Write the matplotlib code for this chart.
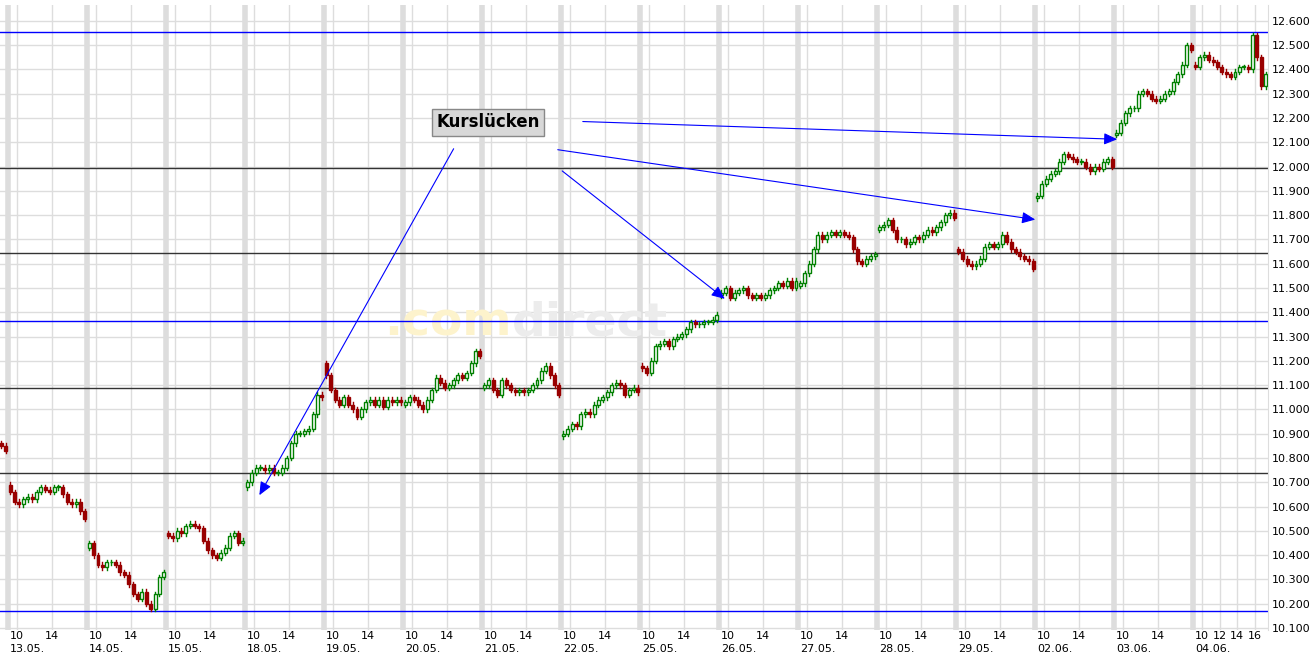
import numpy as np
import matplotlib.pyplot as plt
from matplotlib.patches import Rectangle

# trading days shown, 30-minute closes from 9:00 onwards
days = ["13.05.", "14.05.", "15.05.", "18.05.", "19.05.", "20.05.", "21.05.", "22.05.",
        "25.05.", "26.05.", "27.05.", "28.05.", "29.05.", "02.06.", "03.06.", "04.06."]

closes = [
    [10.66, 10.62, 10.61, 10.63, 10.64, 10.63, 10.66, 10.68, 10.67, 10.66, 10.68, 10.68, 10.65, 10.62, 10.61, 10.62, 10.58, 10.55],
    [10.45, 10.40, 10.36, 10.35, 10.37, 10.37, 10.36, 10.33, 10.32, 10.28, 10.24, 10.22, 10.25, 10.20, 10.18, 10.24, 10.31, 10.33],
    [10.48, 10.47, 10.50, 10.49, 10.52, 10.53, 10.52, 10.51, 10.46, 10.42, 10.40, 10.39, 10.41, 10.43, 10.48, 10.49, 10.45, 10.46],
    [10.70, 10.74, 10.76, 10.76, 10.75, 10.76, 10.74, 10.74, 10.76, 10.80, 10.86, 10.90, 10.90, 10.91, 10.92, 10.98, 11.06, 11.05],
    [11.14, 11.08, 11.04, 11.02, 11.05, 11.02, 11.00, 10.97, 11.00, 11.03, 11.04, 11.02, 11.04, 11.01, 11.04, 11.03, 11.04, 11.03],
    [11.03, 11.05, 11.04, 11.02, 11.00, 11.04, 11.08, 11.13, 11.11, 11.09, 11.10, 11.12, 11.14, 11.13, 11.15, 11.19, 11.24, 11.22],
    [11.10, 11.12, 11.08, 11.06, 11.12, 11.10, 11.08, 11.07, 11.08, 11.07, 11.08, 11.10, 11.12, 11.16, 11.18, 11.14, 11.10, 11.06],
    [10.90, 10.92, 10.94, 10.93, 10.98, 10.99, 10.98, 11.02, 11.04, 11.05, 11.07, 11.10, 11.11, 11.10, 11.06, 11.08, 11.09, 11.07],
    [11.17, 11.15, 11.20, 11.26, 11.27, 11.28, 11.26, 11.29, 11.30, 11.31, 11.33, 11.36, 11.35, 11.35, 11.36, 11.36, 11.37, 11.39],
    [11.48, 11.50, 11.46, 11.48, 11.49, 11.50, 11.47, 11.46, 11.47, 11.46, 11.47, 11.49, 11.50, 11.52, 11.51, 11.53, 11.50, 11.53],
    [11.52, 11.56, 11.60, 11.66, 11.72, 11.70, 11.72, 11.73, 11.72, 11.73, 11.72, 11.71, 11.66, 11.61, 11.60, 11.62, 11.63, 11.64],
    [11.75, 11.76, 11.78, 11.74, 11.70, 11.70, 11.68, 11.69, 11.71, 11.70, 11.72, 11.74, 11.73, 11.75, 11.77, 11.80, 11.81, 11.79],
    [11.65, 11.62, 11.60, 11.59, 11.60, 11.62, 11.67, 11.68, 11.67, 11.68, 11.72, 11.69, 11.66, 11.65, 11.63, 11.62, 11.61, 11.58],
    [11.88, 11.93, 11.95, 11.97, 11.98, 12.02, 12.05, 12.04, 12.03, 12.02, 12.02, 12.00, 11.98, 12.00, 11.99, 12.02, 12.03, 12.00],
    [12.14, 12.18, 12.22, 12.24, 12.24, 12.30, 12.31, 12.30, 12.28, 12.27, 12.28, 12.30, 12.31, 12.35, 12.38, 12.42, 12.50, 12.48],
    [12.41, 12.45, 12.46, 12.44, 12.43, 12.41, 12.39, 12.38, 12.37, 12.39, 12.41, 12.41, 12.40, 12.54, 12.45, 12.33, 12.38, 12.40],
]
day_opens = [10.69, 10.43, 10.49, 10.68, 11.19, 11.02, 11.09, 10.89, 11.18, 11.47, 11.51, 11.74, 11.66, 11.87, 12.13, 12.42]
prev_tail = [10.85, 10.83]  # end of 12.05.

level_lines = [(12.555, "blue"), (11.993, "#333333"), (11.645, "#333333"), (11.366, "blue"),
               (11.088, "#333333"), (10.739, "#333333"), (10.170, "blue")]

PX_H = 8.78  # pixels per hour


def px(x, y):
    return (x - 8) / PX_H, 12.6 - (y - 21) / 244


fig = plt.figure(figsize=(13.13, 6.57), dpi=100)
ax = fig.add_axes([0, 27 / 657, 1268 / 1313, 625 / 657])
ax.set_xlim(-8 / PX_H, (1268 - 8) / PX_H)
ax.set_ylim(10.1 - 2 / 244, 12.6 + 16 / 244)

# grid
for v in np.arange(10.1, 12.65, 0.1):
    ax.axhline(v, color="#dddddd", lw=1, zorder=0)
for d in range(len(days) + 1):
    ax.axvline(d * 9, color="#dddddd", lw=4, zorder=0)
    for h in (10, 14):
        ax.axvline(d * 9 + h - 9, color="#dddddd", lw=1, zorder=0)
ax.axvline(15 * 9 + 3, color="#dddddd", lw=1, zorder=0)
ax.axvline(15 * 9 + 7, color="#dddddd", lw=1, zorder=0)

for v, c in level_lines:
    ax.axhline(v, color=c, lw=1, zorder=1)

# watermark
ax.text(*px(512, 325), ".com", color="#fdf3cc", fontsize=34, fontweight="bold",
        ha="right", va="center", zorder=0.5)
ax.text(*px(512, 325), "direct", color="#ececec", fontsize=34, fontweight="bold",
        ha="left", va="center", zorder=0.5)


def candle(t, o, c):
    hi, lo = max(o, c) + 0.01, min(o, c) - 0.01
    up = c >= o
    col = "#008000" if up else "#990000"
    ax.plot([t, t], [lo, hi], color=col, lw=1, zorder=3)
    body = Rectangle((t - 0.17, min(o, c)), 0.34, max(abs(c - o), 0.003),
                     facecolor="white" if up else col, edgecolor=col, lw=1, zorder=4)
    ax.add_patch(body)


o = prev_tail[0] + 0.01
for i, c in enumerate(prev_tail):
    candle(-0.75 + i * 0.5, o, c)
    o = c
for d, day in enumerate(closes):
    o = day_opens[d]
    for i, c in enumerate(day):
        candle(d * 9 + i * 0.5 + 0.25, o, c)
        o = c

# annotation
ax.text(*px(488, 123), "Kurslücken", fontsize=12, fontweight="bold", ha="center", va="center",
        bbox=dict(boxstyle="square,pad=0.25", fc="#d8d8d8", ec="#888888"), zorder=6)
arrows = [((455, 147), (258, 500)), ((560, 170), (727, 302)),
          ((555, 150), (1038, 221)), ((580, 122), (1120, 140))]
for (x0, y0), (x1, y1) in arrows:
    ax.annotate("", xy=px(x1, y1), xytext=px(x0, y0), zorder=5,
                arrowprops=dict(arrowstyle="-|>,head_length=0.8,head_width=0.35", color="blue", lw=0.8))

# axes / ticks
for s in ax.spines.values():
    s.set_visible(False)
ax.spines["right"].set_visible(True)
ax.spines["right"].set_color("#dddddd")
ax.yaxis.tick_right()
yt = np.arange(10.1, 12.65, 0.1)
ax.set_yticks(yt)
ax.set_yticklabels([f"{round(v * 1000):,}".replace(",", ".") for v in yt], fontsize=8)
ax.tick_params(axis="y", length=0, pad=3)

xt, xl = [], []
for d in range(len(days)):
    hours = (10, 12, 14, 16) if d == 15 else (10, 14)
    for h in hours:
        xt.append(d * 9 + h - 9)
        xl.append(str(h))
ax.set_xticks(xt)
ax.set_xticklabels(xl, fontsize=8)
ax.tick_params(axis="x", length=0, pad=1)
for d, name in enumerate(days):
    ax.annotate(name, xy=(d * 9 + 0.2, 0), xycoords=ax.get_xaxis_transform(),
                xytext=(0, -10), textcoords="offset points",
                fontsize=8, ha="left", va="top")

fig.savefig("out.png", dpi=100)
